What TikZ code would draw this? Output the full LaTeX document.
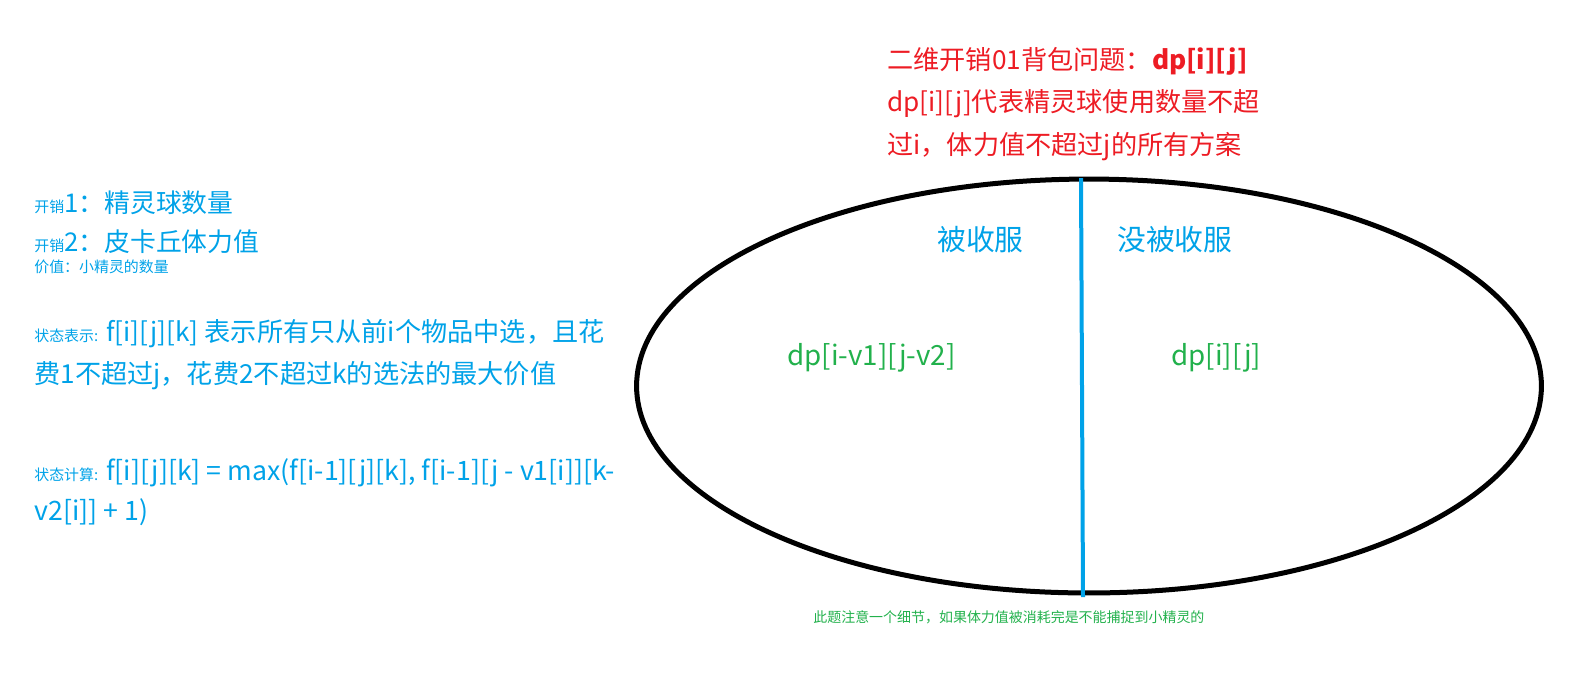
\documentclass[tikz,border=0pt]{standalone}
\usepackage{fontspec}
\setmainfont{Noto Sans CJK SC}
\usetikzlibrary{shapes.geometric, positioning}

\definecolor{pblue}{RGB}{0,162,232}
\definecolor{pred}{RGB}{237,28,36}
\definecolor{pgreen}{RGB}{34,177,76}

\newcommand{\bigtxt}{\fontsize{14.7}{24}\selectfont}
\newcommand{\smalltxt}{\fontsize{8.5}{10}\selectfont}

\begin{document}
\begin{tikzpicture}[x=0.02cm, y=-0.02cm,
		note/.style={anchor=west, inner sep=0pt, align=left},
		bluenote/.style={note, text=pblue},
		rednote/.style={note, text=pred, font=\bigtxt},
		greennote/.style={note, text=pgreen}]
	\useasboundingbox (0,0) rectangle (1576,698);
	
	% Descrizione a sinistra
	\node [bluenote] (cost1) at (34,203) {{\smalltxt 开销}{\bigtxt 1：精灵球数量}};
	\node [bluenote] (cost2) at (34,242) {{\smalltxt 开销}{\bigtxt 2：皮卡丘体力值}};
	\node [bluenote, font=\smalltxt] (value) at (34,267) {价值：小精灵的数量};
	
	\node [bluenote, font=\fontsize{14.9}{24}\selectfont] (state) at (34,355) {{\smalltxt 状态表示:} f[i][j][k] 表示所有只从前i个物品中选，且花\\费1不超过j，花费2不超过k的选法的最大价值};
	\node [bluenote, font=\fontsize{15.2}{23}\selectfont] (calc) at (34,492) {{\smalltxt 状态计算:} f[i][j][k] = max(f[i-1][j][k], f[i-1][j - v1[i]][k-\\v2[i]] + 1)};
	
	% Titolo in rosso
	\node [rednote, font=\fontsize{14.9}{24.4}\selectfont] (title) at (887,104) {二维开销01背包问题：{\bfseries dp[i][j]}\\dp[i][j]代表精灵球使用数量不超\\过i，体力值不超过j的所有方案};
	
	% Insieme diviso in due
	\node [ellipse, draw, line width=0.1cm, minimum width=18.1cm, minimum height=8.28cm] (pool) at (1089,386) {};
	\coordinate (cuttop) at (1081,178);
	\coordinate (cutbot) at (1083,597);
	\draw [pblue, line width=0.08cm] (cuttop) -- (cutbot);
	
	\node [bluenote, font=\fontsize{16.4}{20}\selectfont] (taken) at (937,240) {被收服};
	\node [bluenote, font=\fontsize{16.4}{20}\selectfont] (nottaken) at (1117,240) {没被收服};
	\node [greennote, font=\fontsize{15.8}{20}\selectfont] (left) at (787,358) {dp[i-v1][j-v2]};
	\node [greennote, font=\fontsize{15.8}{20}\selectfont] (right) at (1171,358) {dp[i][j]};
	
	% Nota in basso
	\node [greennote, font=\fontsize{7.95}{10}\selectfont] (hint) at (813,617) {此题注意一个细节，如果体力值被消耗完是不能捕捉到小精灵的};
	
\end{tikzpicture}
\end{document}
